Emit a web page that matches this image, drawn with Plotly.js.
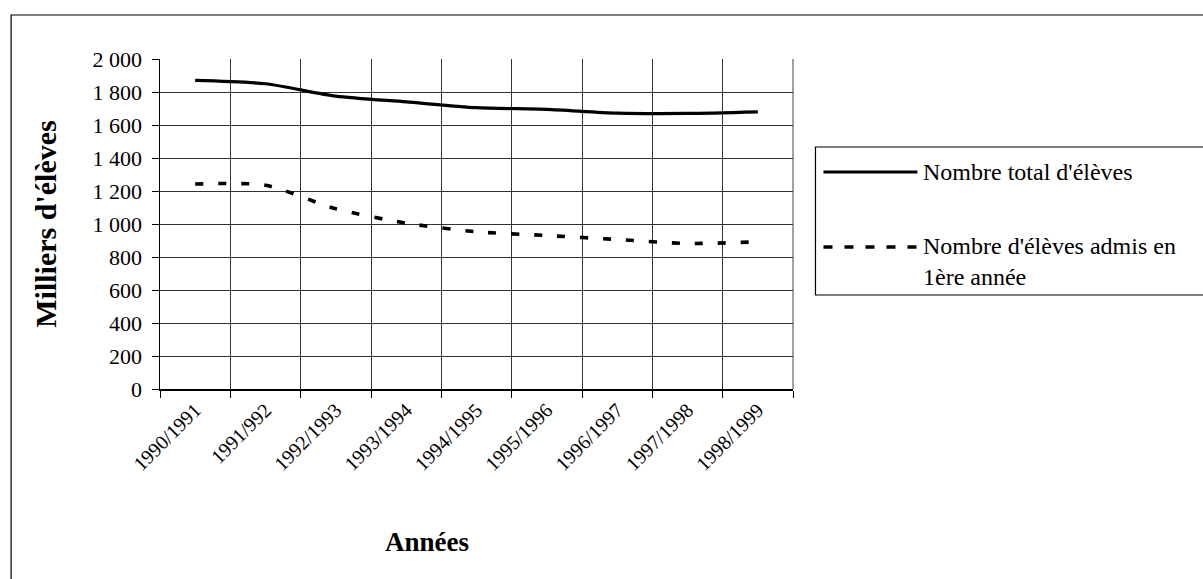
<!DOCTYPE html>
<html>
<head>
<meta charset="utf-8">
<script src="https://cdn.plot.ly/plotly-3.0.1.min.js"></script>
<style>
html,body{margin:0;padding:0;background:#fff;}
#chart{width:1203px;height:579px;}
</style>
</head>
<body>
<div id="chart"></div>
<script>
// ---- data ----
var years = ['1990/1991','1991/992','1992/1993','1993/1994','1994/1995','1995/1996','1996/1997','1997/1998','1998/1999'];
var totalEleves = [1870, 1850, 1775, 1740, 1705, 1695, 1672, 1670, 1680];
var elevesAdmis = [1242, 1235, 1092, 1005, 953, 930, 906, 882, 892];
var seriesNames = ["Nombre total d'élèves", "Nombre d'élèves admis en<br>1ère année"];
var yTitle = "Milliers d'élèves";
var xTitle = "Années";

// ---- layout helpers (pixel -> paper) ----
var L = 160, R = 793.5, T = 59, B = 389;
function px(x){ return (x - L) / (R - L); }
function py(y){ return (B - y) / (B - T); }

var FONT = '"Liberation Serif", "Times New Roman", serif';

var traces = [
  {x: years, y: totalEleves, type: 'scatter', mode: 'lines', name: seriesNames[0],
   line: {color: '#000', width: 3.2, shape: 'spline', smoothing: 0.7}, showlegend: false},
  {x: years, y: elevesAdmis, type: 'scatter', mode: 'lines', name: seriesNames[1],
   line: {color: '#000', width: 3.6, dash: '8px,15px', shape: 'spline', smoothing: 0.7}, showlegend: false}
];

var layout = {
  width: 1203, height: 579,
  margin: {l: L, r: 1203 - R, t: T, b: 579 - B, pad: 0},
  paper_bgcolor: '#fff', plot_bgcolor: '#fff',
  separators: ', ',
  font: {family: FONT, color: '#000', size: 20},
  showlegend: false,
  xaxis: {
    type: 'category', range: [-0.5, 8.5], tickson: 'boundaries',
    ticks: 'outside', ticklen: 7, tickcolor: '#000', tickwidth: 1,
    showgrid: true, gridcolor: '#333', gridwidth: 1,
    showline: true, linecolor: '#000', linewidth: 1.5, mirror: false,
    tickangle: -45, tickfont: {family: FONT, size: 20, color: '#000'},
    zeroline: false, fixedrange: true
  },
  yaxis: {
    range: [0, 2000], dtick: 200, tick0: 0, tickformat: ',d',
    ticks: 'outside', ticklen: 7, tickcolor: '#000', tickwidth: 1,
    ticklabelstandoff: 5,
    showgrid: true, gridcolor: '#333', gridwidth: 1,
    showline: true, linecolor: '#000', linewidth: 1.5,
    tickfont: {family: FONT, size: 22, color: '#000'},
    title: {text: '<b>' + yTitle + '</b>', font: {family: FONT, size: 30, color: '#000'}, standoff: 27},
    zeroline: false, fixedrange: true
  },
  shapes: [
    // outer chart border
    {type: 'rect', xref: 'paper', yref: 'paper', x0: px(11), x1: px(1215), y0: py(600), y1: py(15),
     line: {color: '#000', width: 1.2}, fillcolor: 'rgba(0,0,0,0)', layer: 'below'},
    // right plot border
    {type: 'line', xref: 'paper', yref: 'paper', x0: 1, x1: 1, y0: 0, y1: 1, line: {color: '#444', width: 1}},
    // legend box
    {type: 'rect', xref: 'paper', yref: 'paper', x0: px(816), x1: px(1215), y0: py(295), y1: py(147),
     line: {color: '#000', width: 1.2}, fillcolor: '#fff'},
    // legend line samples
    {type: 'line', xref: 'paper', yref: 'paper', x0: px(824), x1: px(918), y0: py(172), y1: py(172),
     line: {color: '#000', width: 3.2}},
    {type: 'line', xref: 'paper', yref: 'paper', x0: px(824), x1: px(922), y0: py(247), y1: py(247),
     line: {color: '#000', width: 3.6, dash: '9px,12px'}}
  ],
  annotations: [
    {xref: 'paper', yref: 'paper', x: px(922), y: py(172), xanchor: 'left', yanchor: 'middle',
     text: seriesNames[0], showarrow: false, align: 'left', font: {family: FONT, size: 24, color: '#000'}},
    {xref: 'paper', yref: 'paper', x: px(922), y: py(261), xanchor: 'left', yanchor: 'middle',
     text: seriesNames[1], showarrow: false, align: 'left', font: {family: FONT, size: 24, color: '#000'}},
    {xref: 'paper', yref: 'paper', x: px(427), y: py(542), xanchor: 'center', yanchor: 'middle',
     text: '<b>' + xTitle + '</b>', showarrow: false, font: {family: FONT, size: 27, color: '#000'}}
  ]
};

Plotly.newPlot('chart', traces, layout, {staticPlot: true, displayModeBar: false});
</script>
</body>
</html>
